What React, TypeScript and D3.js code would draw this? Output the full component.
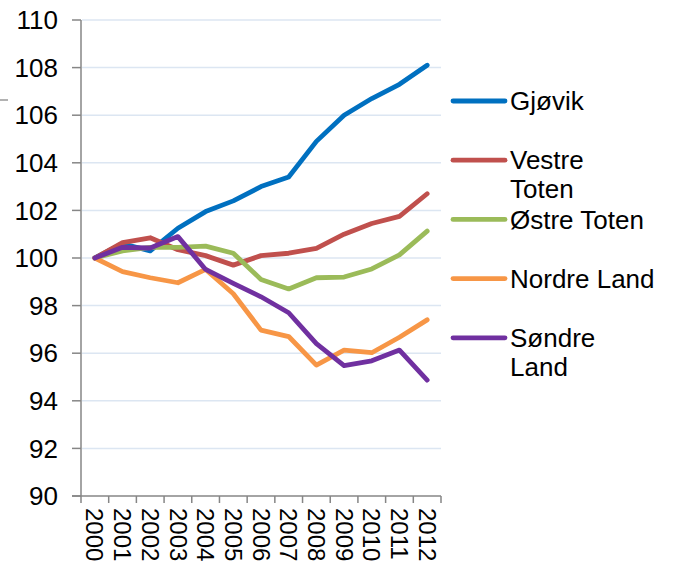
import * as d3 from "d3";
import React from "react";

const years = ["2000", "2001", "2002", "2003", "2004", "2005", "2006", "2007", "2008", "2009", "2010", "2011", "2012"];

const gjovik = [100, 100.6, 100.3, 101.25, 101.95, 102.4, 103.0, 103.4, 104.9, 106.0, 106.7, 107.3, 108.1];
const vestreToten = [100, 100.65, 100.85, 100.35, 100.1, 99.7, 100.1, 100.2, 100.4, 101.0, 101.45, 101.75, 102.7];
const ostreToten = [100, 100.3, 100.45, 100.45, 100.5, 100.2, 99.1, 98.7, 99.17, 99.2, 99.54, 100.13, 101.13];
const nordreLand = [100, 99.43, 99.17, 98.96, 99.52, 98.5, 96.97, 96.7, 95.5, 96.13, 96.02, 96.67, 97.4];
const sondreLand = [100, 100.45, 100.42, 100.9, 99.52, 98.93, 98.37, 97.7, 96.4, 95.48, 95.68, 96.13, 94.87];

const yTicks = [90, 92, 94, 96, 98, 100, 102, 104, 106, 108, 110];

const series = [
  { name: ["Gjøvik"], values: gjovik, color: "#0070C0" },
  { name: ["Vestre", "Toten"], values: vestreToten, color: "#C0504D" },
  { name: ["Østre Toten"], values: ostreToten, color: "#9BBB59" },
  { name: ["Nordre Land"], values: nordreLand, color: "#F79646" },
  { name: ["Søndre", "Land"], values: sondreLand, color: "#7030A0" },
];

const W = 674;
const H = 563;
const font = "'Liberation Sans', Arial, sans-serif";
const fs = 26;

export default function App() {
  const x = d3.scaleBand<string>().domain(years).range([81, 441]);
  const y = d3.scaleLinear().domain([90, 110]).range([496, 20]);
  const line = d3
    .line<number>()
    .x((_, i) => (x(years[i]) as number) + x.bandwidth() / 2)
    .y((d) => y(d));

  const bottom = y(90);

  return (
    <svg width={W} height={H} style={{ position: "absolute", left: 0, top: 0, background: "#fff" }}>
      {/* gridlines */}
      {yTicks.slice(1).map((t) => (
        <line key={t} x1={82} x2={441} y1={y(t)} y2={y(t)} stroke="#DCE6F2" strokeWidth={1.5} />
      ))}
      {/* stray tick at left */}
      <line x1={0} x2={8} y1={100} y2={100} stroke="#999" strokeWidth={1.5} />

      {/* y axis */}
      <line x1={81} x2={81} y1={y(110)} y2={bottom + 7} stroke="#868686" strokeWidth={1.5} />
      {yTicks.map((t) => (
        <g key={t}>
          <line x1={72} x2={81} y1={y(t)} y2={y(t)} stroke="#868686" strokeWidth={1.5} />
          <text x={58} y={y(t)} dy="0.35em" textAnchor="end" fontFamily={font} fontSize={fs} fill="#000">
            {t}
          </text>
        </g>
      ))}

      {/* x axis */}
      <line x1={72} x2={441} y1={bottom} y2={bottom} stroke="#868686" strokeWidth={1.5} />
      {years.map((yr) => (
        <line key={yr} x1={(x(yr) as number) + x.bandwidth()} x2={(x(yr) as number) + x.bandwidth()} y1={bottom} y2={bottom + 7} stroke="#868686" strokeWidth={1.5} />
      ))}
      {years.map((yr) => (
        <text
          key={yr}
          transform={`translate(${(x(yr) as number) + x.bandwidth() / 2},${bottom + 12}) rotate(90)`}
          dy="0.35em"
          fontFamily={font}
          fontSize={24}
          fill="#000"
        >
          {yr}
        </text>
      ))}

      {/* series */}
      {series.map((s) => (
        <path key={s.color} d={line(s.values) || ""} fill="none" stroke={s.color} strokeWidth={4.8} strokeLinejoin="round" strokeLinecap="round" />
      ))}

      {/* legend */}
      {series.map((s, i) => {
        const ly = 101 + i * 59.2;
        return (
          <g key={s.color}>
            <line x1={453} x2={505} y1={ly} y2={ly} stroke={s.color} strokeWidth={4.8} strokeLinecap="round" />
            {s.name.map((n, j) => (
              <text key={n} x={510} y={ly + j * 29} dy="0.35em" fontFamily={font} fontSize={fs} fill="#000">
                {n}
              </text>
            ))}
          </g>
        );
      })}
    </svg>
  );
}
